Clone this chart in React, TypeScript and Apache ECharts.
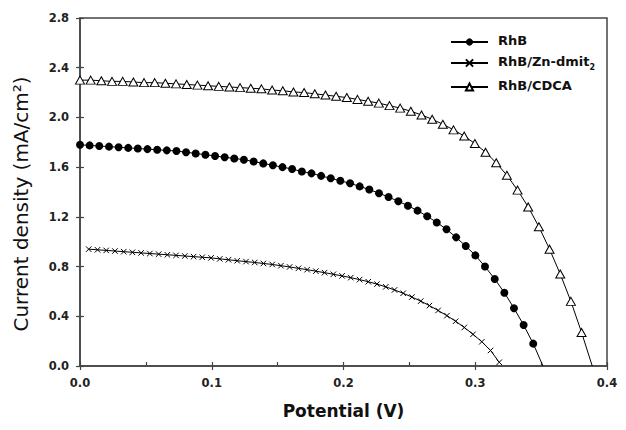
import React, { useEffect, useRef } from "react";
import * as echarts from "echarts";

// Photocurrent density–voltage curves for three sensitized cells.
const SERIES_NAMES = ["RhB", "RhB/Zn-dmit2", "RhB/CDCA"];

const RHB_V = [
  0, 0.0073, 0.0146, 0.022, 0.0293, 0.0366, 0.0439, 0.0512, 0.0586, 0.0659,
  0.0732, 0.0805, 0.0878, 0.0952, 0.1025, 0.1098, 0.1171, 0.1244, 0.1318,
  0.1391, 0.1464, 0.1537, 0.161, 0.1684, 0.1757, 0.183, 0.1903, 0.1976, 0.205,
  0.2123, 0.2196, 0.2269, 0.2342, 0.2416, 0.2489, 0.2562, 0.2635, 0.2708,
  0.2782, 0.2855, 0.2928, 0.3001, 0.3074, 0.3148, 0.3221, 0.3294, 0.3367,
  0.344, 0.3514,
];
const RHB_J = [
  1.78, 1.775, 1.77, 1.765, 1.76, 1.755, 1.75, 1.745, 1.74, 1.735, 1.73, 1.72,
  1.71, 1.7, 1.69, 1.68, 1.67, 1.66, 1.645, 1.63, 1.615, 1.6, 1.585, 1.565,
  1.55, 1.53, 1.51, 1.49, 1.47, 1.445, 1.42, 1.39, 1.36, 1.325, 1.29, 1.25,
  1.205, 1.155, 1.1, 1.035, 0.965, 0.89, 0.8, 0.7, 0.59, 0.465, 0.33, 0.18, 0,
];

const ZN_V = [
  0.0066, 0.0133, 0.0199, 0.0265, 0.0332, 0.0398, 0.0464, 0.053, 0.0597,
  0.0663, 0.0729, 0.0796, 0.0862, 0.0928, 0.0995, 0.1061, 0.1127, 0.1193,
  0.126, 0.1326, 0.1392, 0.1459, 0.1525, 0.1591, 0.1658, 0.1724, 0.179,
  0.1856, 0.1923, 0.1989, 0.2055, 0.2122, 0.2188, 0.2254, 0.2321, 0.2387,
  0.2453, 0.2519, 0.2586, 0.2652, 0.2718, 0.2785, 0.2851, 0.2917, 0.2983,
  0.305, 0.3116, 0.3182,
];
const ZN_J = [
  0.94, 0.935, 0.93, 0.925, 0.92, 0.915, 0.91, 0.905, 0.9, 0.895, 0.89, 0.885,
  0.88, 0.875, 0.87, 0.862, 0.855, 0.847, 0.84, 0.833, 0.825, 0.817, 0.807,
  0.797, 0.786, 0.775, 0.763, 0.751, 0.738, 0.725, 0.711, 0.695, 0.678, 0.659,
  0.637, 0.612, 0.585, 0.555, 0.522, 0.486, 0.447, 0.405, 0.36, 0.31, 0.255,
  0.195, 0.125, 0.03,
];

const CDCA_V = [
  0, 0.0081, 0.0162, 0.0243, 0.0324, 0.0405, 0.0486, 0.0567, 0.0648, 0.0729,
  0.081, 0.0891, 0.0972, 0.1053, 0.1134, 0.1215, 0.1296, 0.1377, 0.1458,
  0.1539, 0.162, 0.1701, 0.1782, 0.1863, 0.1944, 0.2025, 0.2106, 0.2187,
  0.2268, 0.2349, 0.243, 0.2511, 0.2592, 0.2673, 0.2754, 0.2835, 0.2916,
  0.2997, 0.3078, 0.3159, 0.324, 0.3321, 0.3402, 0.3483, 0.3564, 0.3645,
  0.3726, 0.3807, 0.3888,
];
const CDCA_J = [
  2.3, 2.3, 2.295, 2.29, 2.29, 2.285, 2.28, 2.28, 2.275, 2.27, 2.265, 2.26,
  2.255, 2.25, 2.245, 2.24, 2.235, 2.23, 2.22, 2.215, 2.205, 2.2, 2.19, 2.18,
  2.17, 2.16, 2.145, 2.13, 2.115, 2.095, 2.075, 2.05, 2.02, 1.985, 1.945, 1.9,
  1.85, 1.79, 1.72, 1.635, 1.535, 1.415, 1.28, 1.12, 0.94, 0.74, 0.52, 0.27,
  0,
];

const X_TICKS = [0, 0.1, 0.2, 0.3, 0.4];
const Y_TICKS = [0, 0.4, 0.8, 1.2, 1.6, 2.0, 2.4, 2.8];

const FONT = "'DejaVu Sans', 'Liberation Sans', Arial, sans-serif";
const AXIS_COLOR = "#444";

// Pair voltages with currents; the short-circuit end point can drop its marker.
function toPoints(v: number[], j: number[], hideLast: boolean) {
  return v.map((x, i) => {
    const item: any = { value: [x, j[i]] };
    if (hideLast && i === v.length - 1) item.symbol = "none";
    return item;
  });
}

const CROSS = "path://M0,0L10,10M10,0L0,10";

export default function App() {
  const ref = useRef<HTMLDivElement>(null);

  useEffect(() => {
    if (!ref.current) return;
    const chart = echarts.init(ref.current, undefined, { renderer: "svg" });

    const xMin = X_TICKS[0];
    const xMax = X_TICKS[X_TICKS.length - 1];
    const yMin = Y_TICKS[0];
    const yMax = Y_TICKS[Y_TICKS.length - 1];

    const tickLabel = {
      fontFamily: FONT,
      fontWeight: "bold" as const,
      fontSize: 11.5,
      color: "#222",
    };

    chart.setOption({
      animation: false,
      backgroundColor: "#fff",
      grid: {
        left: 80,
        right: 19,
        top: 18,
        bottom: 64,
        show: true,
        borderColor: AXIS_COLOR,
        borderWidth: 1.5,
      },
      legend: {
        orient: "vertical",
        left: 445,
        top: 29,
        itemWidth: 37,
        itemHeight: 9,
        itemGap: 8,
        data: SERIES_NAMES,
        formatter: (name: string) =>
          name === "RhB/Zn-dmit2" ? "{b|RhB/Zn-dmit}{s|2}" : "{b|" + name + "}",
        textStyle: {
          padding: [0, 0, 0, 5],
          rich: {
            b: {
              fontFamily: FONT,
              fontWeight: "bold",
              fontSize: 13,
              color: "#111",
              lineHeight: 16,
              verticalAlign: "top",
            },
            s: {
              fontFamily: FONT,
              fontWeight: "bold",
              fontSize: 8,
              color: "#111",
              lineHeight: 9,
              verticalAlign: "top",
              padding: [8, 0, 0, 0],
            },
          },
        },
      },
      xAxis: [
        {
          type: "value",
          position: "bottom",
          min: xMin,
          max: xMax,
          interval: 0.1,
          axisLine: { show: true, lineStyle: { color: AXIS_COLOR, width: 1.5 } },
          axisTick: { show: true, inside: false, length: 4, lineStyle: { color: AXIS_COLOR, width: 1.2 } },
          splitLine: { show: false },
          axisLabel: { ...tickLabel, margin: 11, formatter: (v: number) => v.toFixed(1) },
          name: "Potential (V)",
          nameLocation: "middle",
          nameGap: 36,
          nameTextStyle: { fontFamily: FONT, fontWeight: "bold", fontSize: 17, color: "#111" },
        },
        {
          type: "value",
          position: "bottom",
          min: xMin,
          max: xMax,
          interval: 0.1,
          axisLine: { show: false },
          axisTick: { show: true, inside: true, length: 4, lineStyle: { color: AXIS_COLOR, width: 1.2 } },
          minorTick: { show: true, splitNumber: 2, length: 4, lineStyle: { color: AXIS_COLOR, width: 1.2 } },
          axisLabel: { show: false },
          splitLine: { show: false },
        },
      ],
      yAxis: [
        {
          type: "value",
          position: "left",
          min: yMin,
          max: yMax,
          interval: 0.4,
          axisLine: { show: true, lineStyle: { color: AXIS_COLOR, width: 1.5 } },
          axisTick: { show: true, inside: false, length: 4, lineStyle: { color: AXIS_COLOR, width: 1.2 } },
          splitLine: { show: false },
          axisLabel: { ...tickLabel, margin: 11, formatter: (v: number) => v.toFixed(1) },
          name: "Current density (mA/cm²)",
          nameLocation: "middle",
          nameGap: 49,
          nameRotate: 90,
          nameTextStyle: {
            fontFamily: FONT,
            fontWeight: "normal",
            fontSize: 20,
            color: "#111",
            padding: [0, 24, 0, 0],
          },
        },
        {
          type: "value",
          position: "left",
          min: yMin,
          max: yMax,
          interval: 0.4,
          axisLine: { show: false },
          axisTick: { show: true, inside: true, length: 4, lineStyle: { color: AXIS_COLOR, width: 1.2 } },
          axisLabel: { show: false },
          splitLine: { show: false },
        },
      ],
      series: [
        {
          name: SERIES_NAMES[0],
          type: "line",
          xAxisIndex: 0,
          yAxisIndex: 0,
          data: toPoints(RHB_V, RHB_J, true),
          symbol: "circle",
          symbolSize: 8,
          showAllSymbol: true,
          lineStyle: { color: "#000", width: 1 },
          itemStyle: { color: "#000", borderColor: "#000", borderWidth: 0 },
          z: 3,
        },
        {
          name: SERIES_NAMES[1],
          type: "line",
          xAxisIndex: 0,
          yAxisIndex: 0,
          data: toPoints(ZN_V, ZN_J, false),
          symbol: CROSS,
          symbolSize: 5.5,
          showAllSymbol: true,
          lineStyle: { color: "#000", width: 1 },
          itemStyle: { color: "#000", borderColor: "#000", borderWidth: 1 },
          z: 3,
        },
        {
          name: SERIES_NAMES[2],
          type: "line",
          xAxisIndex: 0,
          yAxisIndex: 0,
          data: toPoints(CDCA_V, CDCA_J, true),
          symbol: "triangle",
          symbolSize: [9, 8],
          showAllSymbol: true,
          lineStyle: { color: "#000", width: 1 },
          itemStyle: { color: "#fff", borderColor: "#000", borderWidth: 1 },
          z: 3,
        },
      ],
    });

    return () => chart.dispose();
  }, []);

  return (
    <div
      ref={ref}
      style={{ position: "fixed", left: 0, top: 0, width: 626, height: 430, background: "#fff" }}
    />
  );
}
